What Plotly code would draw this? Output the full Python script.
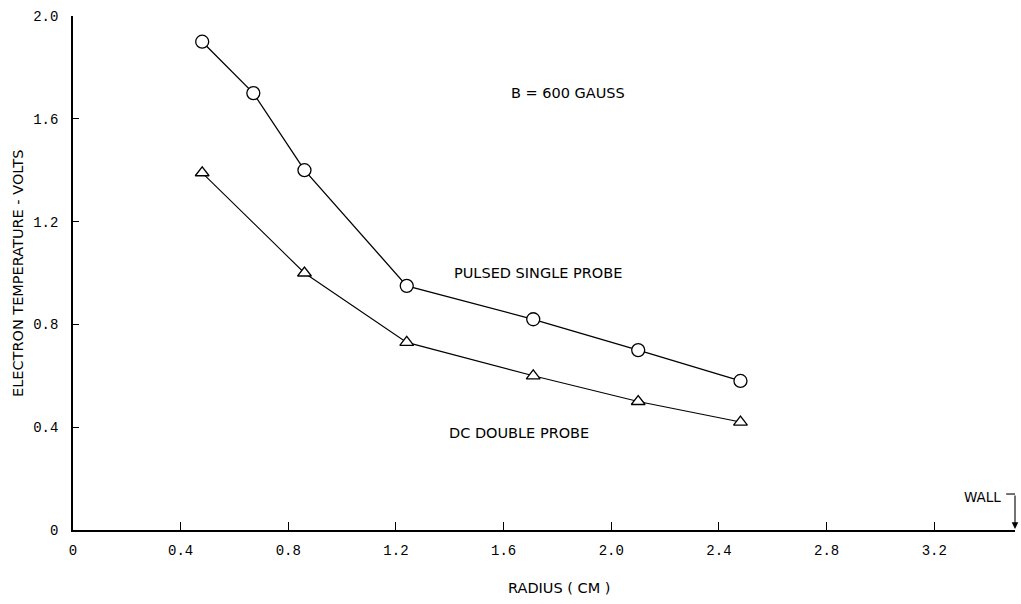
import plotly.graph_objects as go

# Data
pulsed_radius = [0.48, 0.67, 0.86, 1.24, 1.71, 2.10, 2.48]
pulsed_temp = [1.90, 1.70, 1.40, 0.95, 0.82, 0.70, 0.58]

dc_radius = [0.48, 0.86, 1.24, 1.71, 2.10, 2.48]
dc_temp = [1.39, 1.00, 0.73, 0.60, 0.50, 0.42]

x_ticks = [0, 0.4, 0.8, 1.2, 1.6, 2.0, 2.4, 2.8, 3.2]
x_ticktext = ["0", "0.4", "0.8", "1.2", "1.6", "2.0", "2.4", "2.8", "3.2"]
y_ticks = [0, 0.4, 0.8, 1.2, 1.6, 2.0]
y_ticktext = ["0", "0.4", "0.8", "1.2", "1.6", "2.0"]

FONT = "'DejaVu Sans', 'Noto Sans', sans-serif"
TICKFONT = "'Liberation Mono', 'DejaVu Sans Mono', monospace"
LABEL_SIZE = 14.5

fig = go.Figure()

fig.add_trace(go.Scatter(
    x=pulsed_radius, y=pulsed_temp, mode="lines+markers",
    line=dict(color="black", width=1.3),
    marker=dict(symbol="circle", size=13, color="white",
                line=dict(color="black", width=1.3)),
    cliponaxis=False, showlegend=False,
))
fig.add_trace(go.Scatter(
    x=dc_radius, y=dc_temp, mode="lines+markers",
    line=dict(color="black", width=1.1),
    marker=dict(symbol="triangle-up", size=12, color="white",
                line=dict(color="black", width=1.3)),
    cliponaxis=False, showlegend=False,
))

fig.update_layout(
    width=1021, height=604,
    margin=dict(l=73, r=6, t=16, b=74),
    paper_bgcolor="white", plot_bgcolor="white",
    font=dict(family=FONT, size=13, color="black"),
    xaxis=dict(
        range=[0, 3.5], showgrid=False, zeroline=False,
        showline=True, linecolor="black", linewidth=1.5,
        ticks="inside", ticklen=8, tickwidth=1, tickcolor="black",
        tickvals=x_ticks, ticktext=x_ticktext,
        tickfont=dict(family=TICKFONT, size=14, color="black"),
        ticklabelstandoff=6,
    ),
    yaxis=dict(
        range=[0, 2.0], showgrid=False, zeroline=False,
        showline=True, linecolor="black", linewidth=1.5,
        ticks="inside", ticklen=6, tickwidth=1, tickcolor="black",
        tickvals=y_ticks, ticktext=y_ticktext,
        tickfont=dict(family=TICKFONT, size=14, color="black"),
        ticklabelstandoff=10,
    ),
)

annotations = [
    dict(text="ELECTRON TEMPERATURE - VOLTS", xref="paper", yref="paper",
         x=-0.0584, y=0.5, textangle=-90, showarrow=False,
         xanchor="center", yanchor="middle",
         font=dict(family=FONT, size=LABEL_SIZE, color="black")),
    dict(text="RADIUS ( CM )", xref="paper", yref="paper",
         x=0.516, y=-0.113, showarrow=False,
         xanchor="center", yanchor="middle",
         font=dict(family=FONT, size=LABEL_SIZE, color="black")),
    dict(text="B = 600 GAUSS", xref="x", yref="y", x=1.62, y=1.70,
         showarrow=False, xanchor="left", yanchor="middle",
         font=dict(family=FONT, size=LABEL_SIZE, color="black")),
    dict(text="PULSED SINGLE PROBE", xref="x", yref="y", x=1.41, y=1.00,
         showarrow=False, xanchor="left", yanchor="middle",
         font=dict(family=FONT, size=LABEL_SIZE, color="black")),
    dict(text="DC DOUBLE PROBE", xref="x", yref="y", x=1.39, y=0.377,
         showarrow=False, xanchor="left", yanchor="middle",
         font=dict(family=FONT, size=LABEL_SIZE, color="black")),
    dict(text="WALL", xref="x", yref="y", x=3.455, y=0.128,
         showarrow=False, xanchor="right", yanchor="middle",
         font=dict(family=FONT, size=13.5, color="black")),
    dict(text="", xref="x", yref="y", x=3.5, y=0.004,
         axref="x", ayref="y", ax=3.5, ay=0.14,
         showarrow=True, arrowhead=2, arrowsize=1.2, arrowwidth=1.1,
         arrowcolor="black", standoff=0, startstandoff=0),
]
fig.update_layout(annotations=annotations)

fig.add_shape(type="line", xref="x", yref="y",
              x0=3.467, y0=0.14, x1=3.5, y1=0.14,
              line=dict(color="black", width=1.1))

fig.write_html("out.html")
